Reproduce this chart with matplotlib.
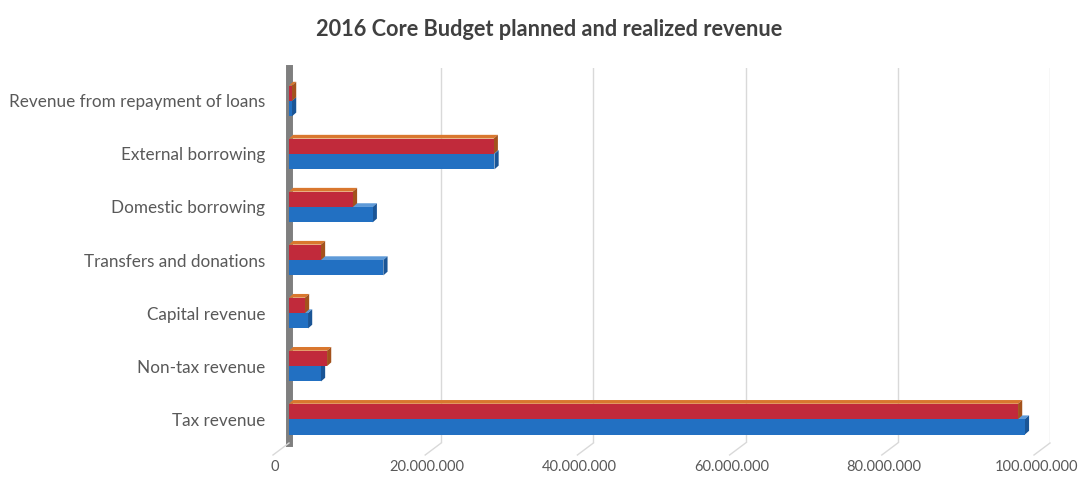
import matplotlib
matplotlib.use("Agg")
import matplotlib.pyplot as plt
from matplotlib.patches import Polygon
from matplotlib.lines import Line2D
from matplotlib.ticker import FuncFormatter
import matplotlib.transforms as mtransforms
import numpy as np

plt.rcParams['font.family'] = ['Lato', 'DejaVu Sans']

categories = [
    "Tax revenue",
    "Non-tax revenue",
    "Capital revenue",
    "Transfers and donations",
    "Domestic borrowing",
    "External borrowing",
    "Revenue from repayment of loans",
]
planned = [96.7e6, 4.2e6, 2.5e6, 12.4e6, 11.0e6, 27.0e6, 0.4e6]
realized = [95.8e6, 5.0e6, 2.1e6, 4.2e6, 8.4e6, 26.9e6, 0.4e6]
x_ticks = [0, 20e6, 40e6, 60e6, 80e6, 100e6]

W, H = 1086, 482
fig = plt.figure(figsize=(W / 100, H / 100), dpi=100)
X0, X1, YT, YB = 289, 1050, 68, 443
ax = fig.add_axes([X0 / W, 1 - YB / H, (X1 - X0) / W, (YB - YT) / H])

y = np.arange(len(categories))
bh = 0.29
ax.set_xlim(0, 100e6)
ax.set_ylim(-0.45, len(categories) - 1 + 0.62)

# depth of the pseudo-3D faces, in data units
dx = 0.55e6
dy = 0.07

faces = {
    "blue": ("#2270C2", "#5E9AD8", "#1A5596"),
    "red": ("#C12A3B", "#D9772E", "#A3521C"),
}


def draw_bars(values, yc, key, z):
    front, top, side = faces[key]
    ax.barh(yc, values, height=bh, color=front, zorder=z, linewidth=0)
    for v, c in zip(values, yc):
        yb, yt = c - bh / 2, c + bh / 2
        ax.add_patch(Polygon([(0, yt), (v, yt), (v + dx, yt + dy), (dx, yt + dy)],
                             closed=True, facecolor=top, edgecolor='none', zorder=z - 0.5))
        ax.add_patch(Polygon([(v, yb), (v, yt), (v + dx, yt + dy), (v + dx, yb + dy)],
                             closed=True, facecolor=side, edgecolor='none', zorder=z - 0.5))


draw_bars(planned, y - bh / 2, "blue", 4)
draw_bars(realized, y + bh / 2, "red", 6)

ax.set_yticks(y)
ax.set_yticklabels(categories)
ax.set_xticks(x_ticks)
ax.xaxis.set_major_formatter(FuncFormatter(lambda v, p: f"{int(v):,}".replace(",", ".")))

ax.grid(axis='x', color='#D9D9D9', linewidth=1, zorder=0)
ax.set_axisbelow(True)
for s in ['top', 'right', 'bottom']:
    ax.spines[s].set_visible(False)
ax.spines['left'].set_color('#7F7F7F')
ax.spines['left'].set_linewidth(5)
ax.spines['left'].set_zorder(3)
ax.tick_params(axis='y', length=0, colors='#595959', labelsize=12.3, pad=17)
ax.tick_params(axis='x', length=0, colors='#595959', labelsize=10.5, pad=12)

# x labels sit on the front edge of the floor, slightly left of the back gridlines
shift = mtransforms.ScaledTranslation(-14 / 100, 0, fig.dpi_scale_trans)
for lab in ax.get_xticklabels():
    lab.set_transform(lab.get_transform() + shift)

# floor edges below each gridline
for t in x_ticks:
    xp = X0 + (X1 - X0) * t / 100e6
    fig.add_artist(Line2D([xp / W, (xp - 16) / W], [1 - YB / H, 1 - (YB + 12) / H],
                          color='#D9D9D9', linewidth=1))

fig.text(549 / W, 1 - 30 / H, "2016 Core Budget planned and realized revenue",
         ha='center', va='center', fontsize=15.7, fontweight='bold', color='#404040')

fig.savefig("out.png", dpi=100)
